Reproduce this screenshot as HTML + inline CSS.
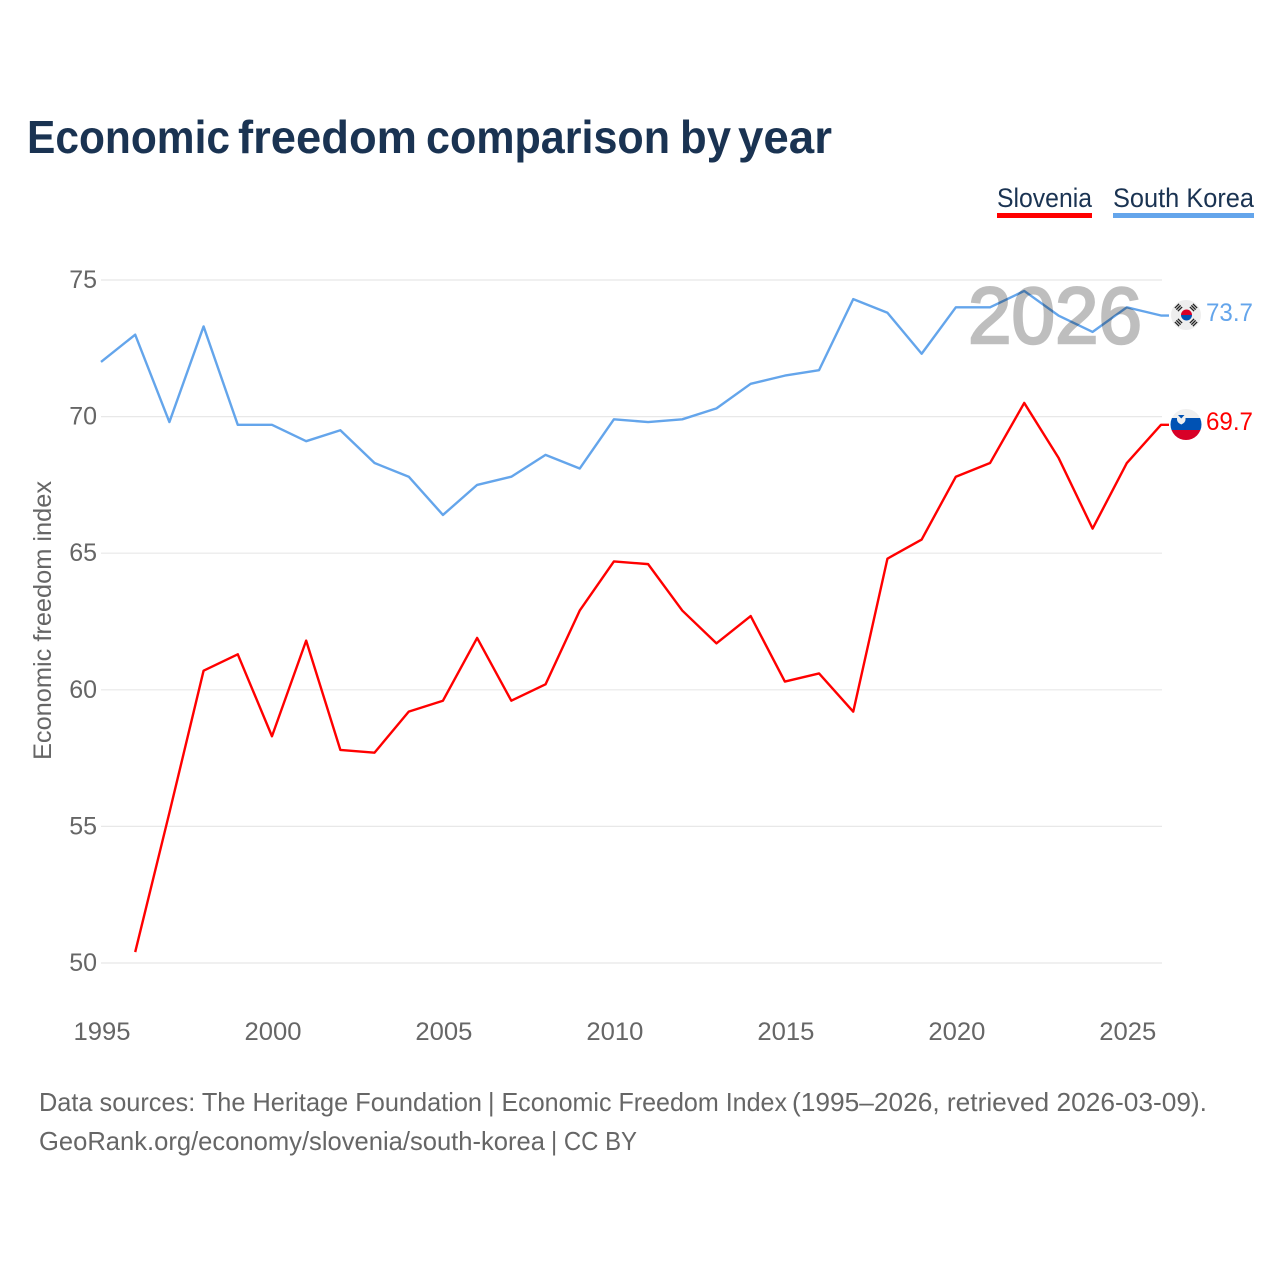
<!DOCTYPE html>
<html lang="en">
<head>
<meta charset="utf-8">
<title>Economic freedom comparison by year</title>
<style>
html,body{margin:0;padding:0;background:#fff;width:1280px;height:1280px;overflow:hidden}
svg{display:block;font-family:"Liberation Sans",sans-serif}
</style>
</head>
<body>
<svg id="chart" xmlns="http://www.w3.org/2000/svg" width="1280" height="1280" viewBox="0 0 1280 1280">
  <defs>
    <clipPath id="clip-kr"><circle cx="1186" cy="315" r="15"/></clipPath>
    <clipPath id="clip-si"><circle cx="1186" cy="424.5" r="15.5"/></clipPath>
  </defs>
  <rect x="0" y="0" width="1280" height="1280" fill="#fff"/>
  <g font-size="46" font-weight="700" fill="#1a3352">
    <text x="27" y="153" textLength="203" lengthAdjust="spacingAndGlyphs">Economic</text>
    <text x="238" y="153" textLength="179" lengthAdjust="spacingAndGlyphs">freedom</text>
    <text x="426" y="153" textLength="244" lengthAdjust="spacingAndGlyphs">comparison</text>
    <text x="680" y="153" textLength="51" lengthAdjust="spacingAndGlyphs">by</text>
    <text x="738" y="153" textLength="94" lengthAdjust="spacingAndGlyphs">year</text>
  </g>

  <g>
    <g>
      <text x="997" y="207" font-size="27" fill="#1a3352" textLength="95" lengthAdjust="spacingAndGlyphs">Slovenia</text>
      <rect x="997" y="213" width="95" height="5" fill="#ff0000"/>
    </g>
    <g>
      <text x="1113" y="207" font-size="27" fill="#1a3352" textLength="141" lengthAdjust="spacingAndGlyphs">South Korea</text>
      <rect x="1113" y="213" width="141" height="5" fill="#64a5eb"/>
    </g>
  </g>

  <g id="grid"></g>
  <g id="y-ticks"></g>
  <g id="x-ticks"></g>
  <text transform="translate(51,620.5) rotate(-90)" text-anchor="middle" font-size="25" fill="#666" textLength="279" lengthAdjust="spacingAndGlyphs">Economic freedom index</text>

  <g id="series"></g>

  <text x="968" y="343" font-size="80" fill="#000" stroke="#000" stroke-width="2.5" opacity="0.25" textLength="174" lengthAdjust="spacingAndGlyphs">2026</text>

  <g clip-path="url(#clip-kr)">
    <rect x="1170" y="299" width="32" height="32" fill="#eeeeee"/>
    <path d="M1181 315a5.500 5.500 0 0 1 11 0z" fill="#d80027"/>
    <path d="M1181 315a5.500 5.500 0 0 0 11 0z" fill="#0052b4"/>
    <g fill="#222">
      <g transform="translate(1178.500,307.500) rotate(-45)"><rect x="-3" y="-2.800" width="6" height="1.300"/><rect x="-3" y="-0.650" width="6" height="1.300"/><rect x="-3" y="1.500" width="6" height="1.300"/></g>
      <g transform="translate(1193.500,307.500) rotate(45)"><rect x="-3" y="-2.800" width="6" height="1.300"/><rect x="-3" y="-0.650" width="6" height="1.300"/><rect x="-3" y="1.500" width="6" height="1.300"/></g>
      <g transform="translate(1178.500,322.500) rotate(45)"><rect x="-3" y="-2.800" width="6" height="1.300"/><rect x="-3" y="-0.650" width="6" height="1.300"/><rect x="-3" y="1.500" width="6" height="1.300"/></g>
      <g transform="translate(1193.500,322.500) rotate(-45)"><rect x="-3" y="-2.800" width="6" height="1.300"/><rect x="-3" y="-0.650" width="6" height="1.300"/><rect x="-3" y="1.500" width="6" height="1.300"/></g>
    </g>
  </g>
  <g clip-path="url(#clip-si)">
    <rect x="1170" y="408" width="32" height="10" fill="#f0f0f0"/>
    <rect x="1170" y="418" width="32" height="12" fill="#0052b4"/>
    <rect x="1170" y="430" width="32" height="11" fill="#d80027"/>
    <path d="M1177 415h8.500v4.500q0 3-4.250 5q-4.250-2-4.250-5z" fill="#f0f0f0"/>
    <path d="M1178 415h6.500l-3.250 3.500z" fill="#0052b4"/>
  </g>
  <text x="1206" y="321" font-size="25" fill="#64a5eb" textLength="47" lengthAdjust="spacingAndGlyphs">73.7</text>
  <text x="1206" y="430" font-size="25" fill="#ff0000" textLength="47" lengthAdjust="spacingAndGlyphs">69.7</text>

  <g font-size="26" fill="#666">
    <text x="39" y="1111" textLength="443" lengthAdjust="spacingAndGlyphs">Data sources: The Heritage Foundation</text>
    <text x="488" y="1111" textLength="299" lengthAdjust="spacingAndGlyphs">| Economic Freedom Index</text>
    <text x="792" y="1111" textLength="415" lengthAdjust="spacingAndGlyphs">(1995–2026, retrieved 2026-03-09).</text>
    <text x="39" y="1150" textLength="506" lengthAdjust="spacingAndGlyphs">GeoRank.org/economy/slovenia/south-korea</text>
    <text x="551" y="1150" textLength="86" lengthAdjust="spacingAndGlyphs">| CC BY</text>
  </g>
</svg>
<script>
const years = [1995,1996,1997,1998,1999,2000,2001,2002,2003,2004,2005,2006,2007,2008,2009,2010,2011,2012,2013,2014,2015,2016,2017,2018,2019,2020,2021,2022,2023,2024,2025,2026];
const southKorea = [72,73,69.8,73.3,69.7,69.7,69.1,69.5,68.3,67.8,66.4,67.5,67.8,68.6,68.1,69.9,69.8,69.9,70.3,71.2,71.5,71.7,74.3,73.8,72.3,74,74,74.6,73.7,73.1,74,73.7];
const slovenia = [null,50.4,55.5,60.7,61.3,58.3,61.8,57.8,57.7,59.2,59.6,61.9,59.6,60.2,62.9,64.7,64.6,62.9,61.7,62.7,60.3,60.6,59.2,64.8,65.5,67.8,68.3,70.5,68.5,65.9,68.3,69.7];
const yTicks = [50,55,60,65,70,75];
const xTicks = [1995,2000,2005,2010,2015,2020,2025];

const NS = 'http://www.w3.org/2000/svg';
const plot = {left:101, right:1161, gridRight:1162, top:280, bottom:963};
function xScale(year){
  return plot.left + (year - 1995) / (2026 - 1995) * (plot.right - plot.left);
}
function yScale(v){
  return plot.bottom - (v - 50) / (75 - 50) * (plot.bottom - plot.top);
}

const gridG = document.getElementById('grid');
const yG = document.getElementById('y-ticks');
yTicks.forEach(function(t){
  const l = document.createElementNS(NS,'line');
  
  
  l.setAttribute('x1', plot.left);
  l.setAttribute('x2', plot.gridRight);
  l.setAttribute('y1', yScale(t));
  l.setAttribute('y2', yScale(t));
  l.setAttribute('stroke', '#e8e8e8');
  l.setAttribute('stroke-width', '1.2');
  gridG.appendChild(l);
  const txt = document.createElementNS(NS,'text');
  
  
  txt.setAttribute('x', 97);
  txt.setAttribute('y', yScale(t) + 8);
  txt.setAttribute('text-anchor', 'end');
  txt.setAttribute('font-size', '25');
  txt.setAttribute('fill', '#666');
  txt.textContent = t;
  yG.appendChild(txt);
});

const xG = document.getElementById('x-ticks');
xTicks.forEach(function(t){
  const txt = document.createElementNS(NS,'text');
  
  
  txt.setAttribute('x', xScale(t) + 1);
  txt.setAttribute('y', 1040);
  txt.setAttribute('text-anchor', 'middle');
  txt.setAttribute('font-size', '25');
  txt.setAttribute('fill', '#666');
  txt.setAttribute('textLength', '57');
  txt.setAttribute('lengthAdjust', 'spacingAndGlyphs');
  txt.textContent = t;
  xG.appendChild(txt);
});

function drawSeries(values, color, name){
  const parts = [];
  values.forEach(function(v, i){
    if (v === null) return;
    parts.push((parts.length ? 'L' : 'M') + xScale(years[i]).toFixed(2) + ' ' + yScale(v).toFixed(2));
  });
  parts.push('H' + (plot.right + 8));
  const p = document.createElementNS(NS,'path');
  
  
  p.setAttribute('d', parts.join(''));
  p.setAttribute('fill', 'none');
  p.setAttribute('stroke', color);
  p.setAttribute('stroke-width', '2.4');
  p.setAttribute('stroke-linejoin', 'round');
  document.getElementById('series').appendChild(p);
}
drawSeries(slovenia, '#ff0000', 'slovenia-line');
drawSeries(southKorea, '#64a5eb', 'south-korea-line');
</script>
</body>
</html>
